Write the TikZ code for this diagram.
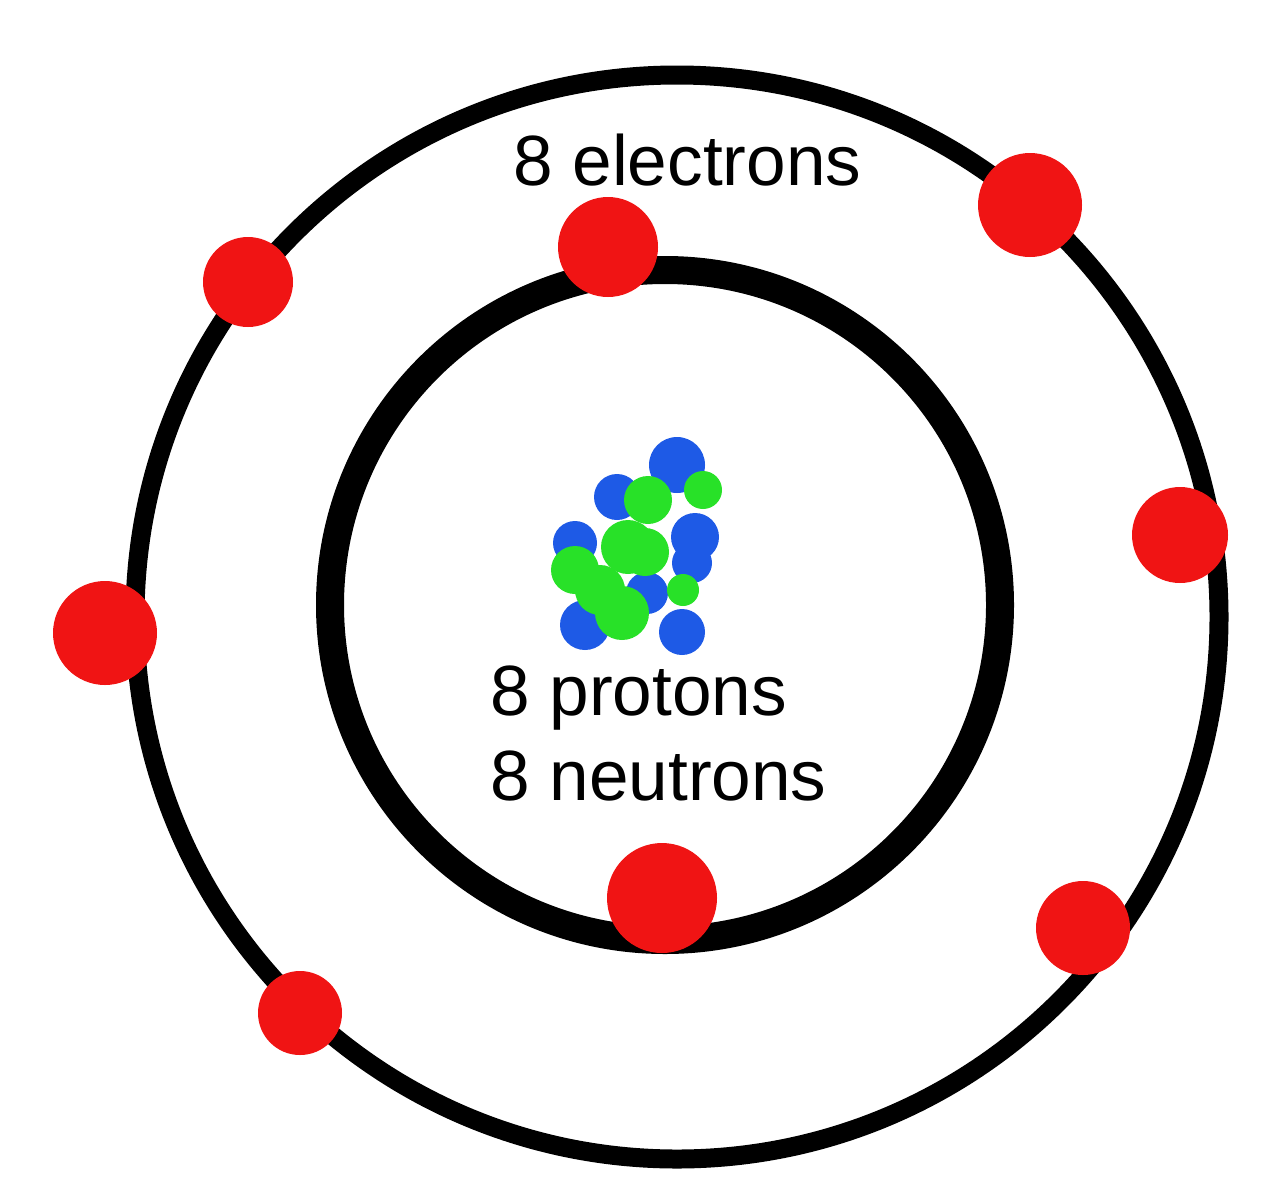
\documentclass[tikz,border=0pt]{standalone}
\usepackage{fontspec}
\setmainfont{Liberation Sans}
\definecolor{ered}{RGB}{240,20,20}
\definecolor{pblue}{RGB}{30,90,230}
\definecolor{ngreen}{RGB}{40,225,40}
\begin{document}
\begin{tikzpicture}[x=0.02cm,y=-0.02cm,
  electron/.style={fill=ered},
  proton/.style={fill=pblue},
  neutron/.style={fill=ngreen},
  lbl/.style={font=\fontsize{40.5}{44}\selectfont,inner sep=0pt}]
\useasboundingbox (0,0) rectangle (1283,1200);
\draw[line width=0.38cm] (677,617) circle (542);
\draw[line width=0.56cm] (665,605) circle (335);
% nucleus
\foreach \x/\y/\r in {677/465/28,617/497/23,575/543/22,695/537/24,692/563/20,647/593/21,585/625/25,682/632/23}
  \fill[proton] (\x,\y) circle (\r);
\foreach \x/\y/\r in {703/490/19,648/500/24,628/547/27,645/552/24,575/570/24,600/590/25,622/613/27,683/590/16}
  \fill[neutron] (\x,\y) circle (\r);
% electrons
\foreach \x/\y/\r in {248/282/45,608/247/50,1030/205/52,1180/535/48,105/633/52,662/898/55,1083/928/47,300/1013/42}
  \fill[electron] (\x,\y) circle (\r);
\node[lbl,anchor=base west] (el) at (513,185) {8 electrons};
\node[lbl,anchor=base west] (pr) at (490,715) {8 protons};
\node[lbl,anchor=base west] (ne) at (490,800) {8 neutrons};
\end{tikzpicture}
\end{document}
